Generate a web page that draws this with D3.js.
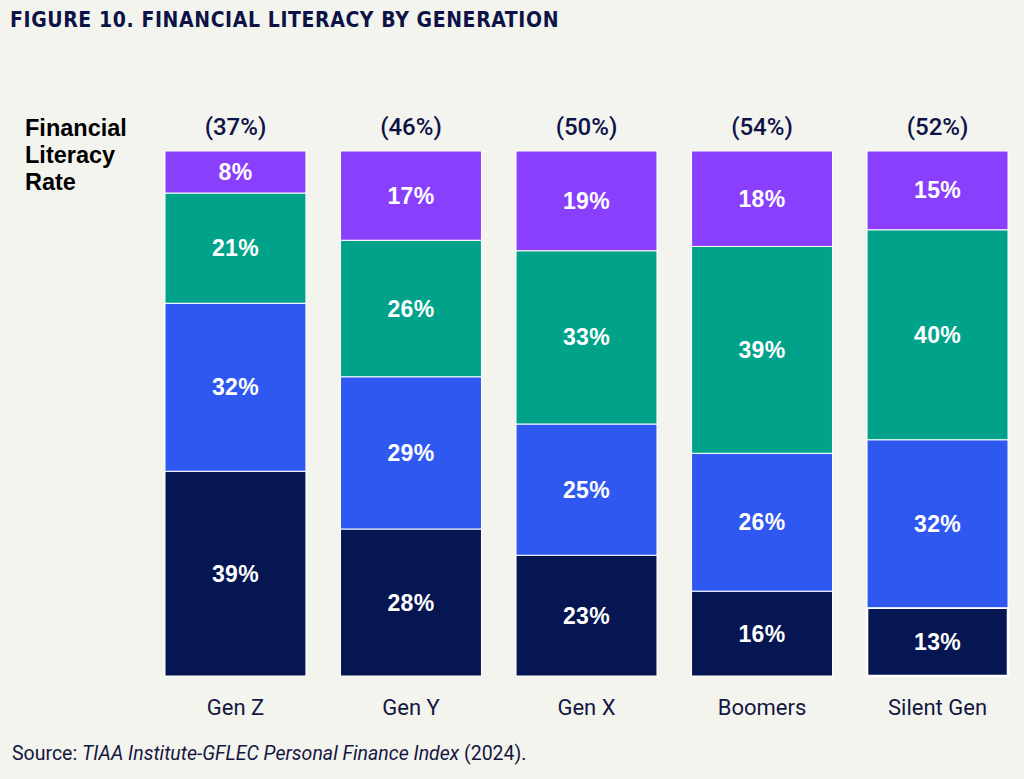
<!DOCTYPE html>
<html>
<head>
    <meta charset="utf-8">
    <title>Figure 10 - Financial literacy by generation</title>
    <script src="https://cdn.jsdelivr.net/npm/d3@7"></script>
    <style>
        body { margin: 0; background: #f4f4ef; }
        svg { display: block; }
        .title { font-family: "DejaVu Sans Condensed", "DejaVu Sans", sans-serif; font-weight: bold; font-size: 21px; fill: #0d1347; letter-spacing: 0.6px; }
        .seg-label { font-family: "Liberation Sans", Arial, sans-serif; font-weight: bold; font-size: 23px; fill: #fff; letter-spacing: 0.3px; }
        .rate { font-family: Roboto, "Liberation Sans", sans-serif; font-weight: 500; font-size: 24px; fill: #0d1347; }
        .axis-label { font-family: Roboto, "Liberation Sans", sans-serif; font-size: 22px; fill: #14173f; }
        .side { font-family: "Liberation Sans", Arial, sans-serif; font-weight: bold; font-size: 23.5px; fill: #000; }
        .source { font-family: Roboto, "Liberation Sans", sans-serif; font-size: 19.5px; fill: #14173f; }
    </style>
</head>
<body>
<script>
    // Données
    var generations = ["Gen Z", "Gen Y", "Gen X", "Boomers", "Silent Gen"];
    var literacyRate = [37, 46, 50, 54, 52];
    // Séries, du bas vers le haut
    var seriesKeys = ["s1", "s2", "s3", "s4"];
    var s1 = [39, 28, 23, 16, 13];
    var s2 = [32, 29, 25, 26, 32];
    var s3 = [21, 26, 33, 39, 40];
    var s4 = [8, 17, 19, 18, 15];
    var seriesColors = ["#061652", "#2f58f0", "#00a38a", "#8a3ffc"];

    var width = 1024, height = 779;

    var svg = d3.select("body").append("svg")
        .attr("width", width)
        .attr("height", height);

    svg.append("rect").attr("width", width).attr("height", height).attr("fill", "#f4f4ef");

    // Table pour d3.stack
    var table = generations.map(function(g, i) {
        return { gen: g, s1: s1[i], s2: s2[i], s3: s3[i], s4: s4[i] };
    });

    // Les barres vont toujours à 100 %
    var stack = d3.stack().keys(seriesKeys).offset(d3.stackOffsetExpand);
    var layers = stack(table);

    var x = d3.scaleBand()
        .domain(generations)
        .range([165, 1008])
        .paddingInner(0.197)
        .paddingOuter(0);

    var y = d3.scaleLinear()
        .domain([0, 1])
        .range([676, 151]);

    var color = d3.scaleOrdinal().domain(seriesKeys).range(seriesColors);

    // Titre
    svg.append("text")
        .attr("class", "title")
        .attr("x", 10)
        .attr("y", 27)
        .text("FIGURE 10. FINANCIAL LITERACY BY GENERATION");

    // Segments
    var layer = svg.selectAll("g.layer")
        .data(layers)
        .enter().append("g")
        .attr("class", "layer")
        .attr("fill", function(d) { return color(d.key); });

    layer.selectAll("rect")
        .data(function(d) { return d.map(function(p) { p.key = d.key; return p; }); })
        .enter().append("rect")
        .attr("x", function(d) { return x(d.data.gen); })
        .attr("y", function(d) { return y(d[1]); })
        .attr("width", x.bandwidth())
        .attr("height", function(d) { return y(d[0]) - y(d[1]); })
        .attr("stroke", "#fff")
        .attr("stroke-width", function(d) {
            // contour blanc plus épais sur le bas de Silent Gen, comme l'original
            return (d.data.gen === "Silent Gen" && d.key === "s1") ? 2.5 : 1;
        });

    layer.selectAll("text")
        .data(function(d) { return d; })
        .enter().append("text")
        .attr("class", "seg-label")
        .attr("x", function(d) { return x(d.data.gen) + x.bandwidth() / 2; })
        .attr("y", function(d) { return (y(d[0]) + y(d[1])) / 2; })
        .attr("text-anchor", "middle")
        .attr("dominant-baseline", "central")
        .text(function(d) { return d.data[d.key] + "%"; });

    // Taux au-dessus des barres
    svg.selectAll("text.rate")
        .data(generations)
        .enter().append("text")
        .attr("class", "rate")
        .attr("x", function(d) { return x(d) + x.bandwidth() / 2; })
        .attr("y", 135)
        .attr("text-anchor", "middle")
        .text(function(d, i) { return "(" + literacyRate[i] + "%)"; });

    // Libellé latéral
    var side = svg.append("text").attr("class", "side").attr("x", 25).attr("y", 136);
    ["Financial", "Literacy", "Rate"].forEach(function(t, i) {
        side.append("tspan").attr("x", 25).attr("dy", i === 0 ? 0 : 27).text(t);
    });

    // Axe des catégories
    var xAxis = svg.append("g")
        .attr("transform", "translate(0,676)")
        .call(d3.axisBottom(x).tickSize(0).tickPadding(0));
    xAxis.select(".domain").remove();
    xAxis.selectAll("text")
        .attr("class", "axis-label")
        .attr("y", 39)
        .attr("dy", 0)
        .attr("font-family", null)
        .attr("font-size", null)
        .attr("fill", null);

    // Source
    var src = svg.append("text").attr("class", "source").attr("x", 12).attr("y", 760);
    src.append("tspan").text("Source: ");
    src.append("tspan").attr("font-style", "italic").text("TIAA Institute-GFLEC Personal Finance Index");
    src.append("tspan").text(" (2024).");
</script>
</body>
</html>
